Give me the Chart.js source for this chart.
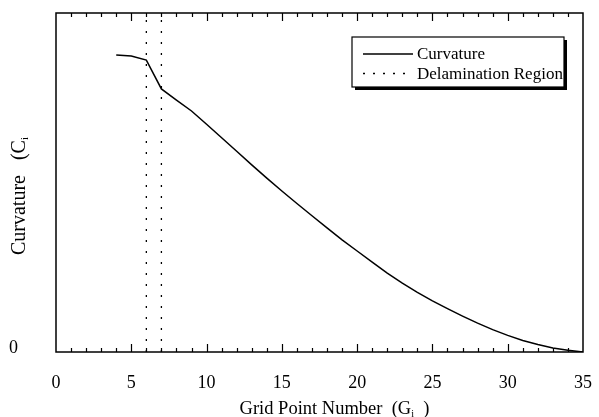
<!DOCTYPE html>
<html>
<head>
    <title>Curvature vs Grid Point Number</title>
    <script src="https://cdn.jsdelivr.net/npm/chart.js"></script>
    <style>
        body {
            margin: 0;
            background-color: white;
        }
        #wrap {
            width: 599px;
            height: 417px;
        }
    </style>
</head>
<body>
    <div id="wrap"><canvas id="curveChart"></canvas></div>

    <script>
        // values (y is unitless, 0 at the bottom)
        const gridPoints = [4, 5, 6, 7, 8, 9, 10, 11, 12, 13, 14, 15, 16, 17, 18, 19, 20,
                            21, 22, 23, 24, 25, 26, 27, 28, 29, 30, 31, 32, 33, 34, 35];
        const curvature = [0.876, 0.873, 0.861, 0.776, 0.743, 0.711, 0.672, 0.632, 0.592, 0.552,
                           0.513, 0.475, 0.438, 0.402, 0.366, 0.331, 0.298, 0.265, 0.233, 0.203,
                           0.176, 0.151, 0.128, 0.106, 0.085, 0.066, 0.049, 0.034, 0.022, 0.012,
                           0.005, 0.000];
        const delamBounds = [6, 7];
        const xTickLabels = [0, 5, 10, 15, 20, 25, 30, 35];
        const yTickLabels = ['0'];

        const FONT = '"Liberation Serif", "Times New Roman", serif';

        // draw a string made of normal and subscript parts, centred on x
        function drawParts(ctx, parts, x, y, size) {
            ctx.textBaseline = 'alphabetic';
            ctx.textAlign = 'left';
            let total = 0;
            parts.forEach(p => {
                ctx.font = (p.sub ? size * 0.55 : size) + 'px ' + FONT;
                total += ctx.measureText(p.text).width;
            });
            let cx = x - total / 2;
            parts.forEach(p => {
                ctx.font = (p.sub ? size * 0.55 : size) + 'px ' + FONT;
                ctx.fillText(p.text, cx, p.sub ? y + 3 : y);
                cx += ctx.measureText(p.text).width;
            });
        }

        const framePlugin = {
            id: 'frame',
            afterDraw(chart) {
                const ctx = chart.ctx;
                const a = chart.chartArea;
                const xs = chart.scales.x;
                ctx.save();
                ctx.strokeStyle = 'black';
                ctx.fillStyle = 'black';

                // box around the plot
                ctx.lineWidth = 1.5;
                ctx.strokeRect(a.left, a.top, a.right - a.left, a.bottom - a.top);

                // inward ticks, top and bottom, every grid point
                ctx.lineWidth = 1.2;
                for (let v = 1; v < 35; v++) {
                    const px = Math.round(xs.getPixelForValue(v)) + 0.5;
                    const len = v % 5 === 0 ? 8 : 4;
                    ctx.beginPath();
                    ctx.moveTo(px, a.bottom);
                    ctx.lineTo(px, a.bottom - len);
                    ctx.moveTo(px, a.top);
                    ctx.lineTo(px, a.top + len);
                    ctx.stroke();
                }

                // axis titles
                drawParts(ctx, [
                    { text: 'Grid Point Number  (G' },
                    { text: 'i', sub: true },
                    { text: '  )' }
                ], (a.left + a.right) / 2 + 15, 414, 18.5);

                ctx.save();
                ctx.translate(25, 196);
                ctx.rotate(-Math.PI / 2);
                drawParts(ctx, [
                    { text: 'Curvature   (C' },
                    { text: 'i', sub: true }
                ], 0, 0, 20);
                ctx.restore();

                // legend with drop shadow
                const lx = 352, ly = 37, lw = 212, lh = 50;
                ctx.fillRect(lx + 3, ly + 3, lw, lh);
                ctx.fillStyle = 'white';
                ctx.fillRect(lx, ly, lw, lh);
                ctx.lineWidth = 1.2;
                ctx.strokeRect(lx, ly, lw, lh);

                ctx.strokeStyle = 'black';
                ctx.lineWidth = 1.3;
                ctx.beginPath();
                ctx.moveTo(363, 54);
                ctx.lineTo(413, 54);
                ctx.stroke();
                ctx.setLineDash([2, 8]);
                ctx.beginPath();
                ctx.moveTo(363, 73.5);
                ctx.lineTo(413, 73.5);
                ctx.stroke();
                ctx.setLineDash([]);

                ctx.fillStyle = 'black';
                ctx.font = '17px ' + FONT;
                ctx.textAlign = 'left';
                ctx.textBaseline = 'alphabetic';
                ctx.fillText('Curvature', 417, 59);
                ctx.fillText('Delamination Region', 417, 79);
                ctx.restore();
            }
        };

        const datasets = [{
            label: 'Curvature',
            data: gridPoints.map((g, i) => ({ x: g, y: curvature[i] })),
            borderColor: 'black',
            borderWidth: 1.5,
            pointRadius: 0,
            tension: 0
        }];
        delamBounds.forEach(b => {
            datasets.push({
                label: 'Delamination Region',
                data: [{ x: b, y: 0 }, { x: b, y: 1 }],
                borderColor: 'black',
                borderWidth: 1.3,
                borderDash: [2, 9],
                pointRadius: 0
            });
        });

        const ctx = document.getElementById('curveChart').getContext('2d');
        const curveChart = new Chart(ctx, {
            type: 'line',
            data: { datasets: datasets },
            options: {
                responsive: true,
                maintainAspectRatio: false,
                animation: false,
                layout: {
                    padding: { top: 13, right: 16, left: 0, bottom: 0 }
                },
                plugins: {
                    legend: { display: false },
                    tooltip: { enabled: false }
                },
                scales: {
                    x: {
                        type: 'linear',
                        min: 0,
                        max: 35,
                        afterFit(s) {
                            s.height = 65;
                            s.paddingLeft = 0;
                            s.paddingRight = 0;
                        },
                        afterBuildTicks(s) { s.ticks = xTickLabels.map(v => ({ value: v })); },
                        grid: { display: false },
                        border: { display: false },
                        ticks: {
                            color: 'black',
                            padding: 12,
                            maxRotation: 0,
                            font: { family: FONT, size: 18 }
                        }
                    },
                    y: {
                        type: 'linear',
                        min: 0,
                        max: 1,
                        afterFit(s) {
                            s.width = 56;
                            s.paddingTop = 0;
                            s.paddingBottom = 0;
                        },
                        afterBuildTicks(s) { s.ticks = [{ value: 0 }]; },
                        grid: { display: false },
                        border: { display: false },
                        ticks: {
                            color: 'black',
                            padding: 30,
                            labelOffset: -4,
                            callback: (v, i) => yTickLabels[i],
                            font: { family: FONT, size: 18 }
                        }
                    }
                }
            },
            plugins: [framePlugin]
        });
    </script>
</body>
</html>
